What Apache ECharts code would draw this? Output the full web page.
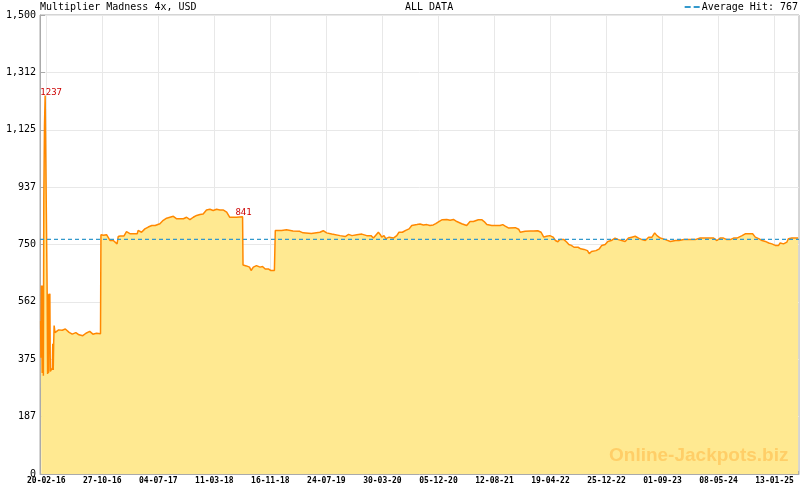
<!DOCTYPE html>
<html><head><meta charset="utf-8">
<script src="https://cdn.jsdelivr.net/npm/echarts@6/dist/echarts.min.js"></script>
<style>html,body{margin:0;padding:0;background:#fff}#c{width:800px;height:490px}</style>
</head><body><div id="c"></div>
<script>
// ---- data ----
const titleText = 'Multiplier Madness 4x, USD';
const subtitleText = 'ALL DATA';
const watermarkText = 'Online-Jackpots.biz';
const averageHit = 767;
const averageName = 'Average Hit: 767';
const tickDates = ['2016-02-20','2016-10-27','2017-07-04','2018-03-11','2018-11-16','2019-07-24','2020-03-30','2020-12-05','2021-08-12','2022-04-19','2022-12-25','2023-09-01','2024-05-08','2025-01-13'];
const axisStart = '2016-01-23';
const axisEnd = '2025-05-02';
const yMax = 1500;
const yStep = 187.5;
const peakDates = ['2016-02-15', '2018-07-15'];

const dates = [
'2016-01-26','2016-01-27','2016-01-29','2016-02-02','2016-02-04','2016-02-07','2016-02-09','2016-02-12','2016-02-15','2016-02-22',
'2016-02-24','2016-02-26','2016-02-28','2016-03-01','2016-03-04','2016-03-07','2016-03-09','2016-03-14','2016-03-18','2016-03-20',
'2016-03-22','2016-03-24','2016-03-26','2016-03-30','2016-04-15','2016-05-01','2016-05-15','2016-06-01','2016-06-15','2016-07-01',
'2016-07-15','2016-08-01','2016-08-15','2016-09-01','2016-09-15','2016-10-01','2016-10-19','2016-10-21','2016-11-01','2016-11-15',
'2016-12-01','2016-12-15','2017-01-01','2017-01-06','2017-01-15','2017-02-01','2017-02-12','2017-03-01','2017-03-15','2017-04-01',
'2017-04-05','2017-04-20','2017-05-05','2017-05-20','2017-06-05','2017-06-20','2017-06-27','2017-07-11','2017-07-26','2017-08-10',
'2017-08-25','2017-09-09','2017-09-24','2017-10-09','2017-10-24','2017-11-07','2017-11-22','2017-12-07','2017-12-22','2018-01-06',
'2018-01-20','2018-02-04','2018-02-19','2018-02-26','2018-03-06','2018-03-21','2018-04-05','2018-04-19','2018-05-05','2018-05-19',
'2018-06-18','2018-07-15','2018-07-17','2018-08-01','2018-08-15','2018-08-22','2018-09-01','2018-09-15','2018-10-01','2018-10-12',
'2018-10-24','2018-11-07','2018-11-18','2018-12-04','2018-12-06','2018-12-08','2019-01-05','2019-01-27','2019-02-25','2019-03-27',
'2019-04-11','2019-04-18','2019-05-18','2019-06-25','2019-07-10','2019-07-25','2019-08-17','2019-09-23','2019-10-16','2019-10-31',
'2019-11-15','2019-12-07','2019-12-29','2020-01-20','2020-02-08','2020-02-19','2020-02-26','2020-03-12','2020-03-20','2020-03-27',
'2020-04-06','2020-04-14','2020-04-29','2020-05-18','2020-06-02','2020-06-12','2020-06-27','2020-07-12','2020-07-27','2020-08-08',
'2020-08-31','2020-09-14','2020-09-29','2020-10-14','2020-10-28','2020-11-12','2020-11-23','2020-12-07','2020-12-22','2021-01-11',
'2021-01-26','2021-02-10','2021-02-25','2021-03-19','2021-04-10','2021-04-25','2021-05-10','2021-06-01','2021-06-16','2021-06-27',
'2021-07-09','2021-07-31','2021-08-23','2021-09-06','2021-09-18','2021-09-29','2021-10-13','2021-11-13','2021-11-28','2021-12-05',
'2021-12-27','2022-01-19','2022-02-03','2022-02-10','2022-02-21','2022-03-08','2022-03-20','2022-04-01','2022-04-16','2022-05-01',
'2022-05-11','2022-05-22','2022-05-31','2022-06-18','2022-06-30','2022-07-10','2022-07-21','2022-08-02','2022-08-20','2022-09-01',
'2022-09-16','2022-10-01','2022-10-09','2022-10-19','2022-11-08','2022-11-23','2022-12-04','2022-12-19','2022-12-31','2023-01-15',
'2023-02-01','2023-02-16','2023-03-03','2023-03-18','2023-04-02','2023-04-17','2023-05-02','2023-05-17','2023-06-01','2023-06-16',
'2023-07-01','2023-07-16','2023-07-28','2023-08-07','2023-08-22','2023-09-14','2023-10-06','2023-10-29','2023-11-13','2023-12-05',
'2024-01-02','2024-01-25','2024-02-16','2024-03-17','2024-04-16','2024-05-01','2024-05-15','2024-05-30','2024-06-14','2024-06-29',
'2024-07-14','2024-07-29','2024-08-21','2024-09-04','2024-09-27','2024-10-07','2024-10-19','2024-11-03','2024-11-18','2024-12-03',
'2024-12-18','2025-01-01','2025-01-16','2025-01-31','2025-02-07','2025-02-22','2025-03-09','2025-03-16','2025-03-31','2025-04-28'
];
const values = [
500,380,616,330,616,321,900,1140,1237,1237,
589,327,589,330,580,589,335,340,347,426,
340,426,485,462,471,470,474,463,457,462,
455,452,460,466,457,460,458,782,780,782,
763,763,752,776,778,778,792,785,785,785,
796,790,801,807,812,812,807,818,829,836,
839,842,834,834,834,839,831,839,845,848,
850,863,865,869,861,865,863,863,856,839,
839,841,683,680,676,665,676,681,676,678,
670,670,665,665,730,796,796,798,794,793,
788,793,786,790,795,788,784,779,776,783,
779,782,784,779,779,771,771,790,783,774,
779,769,774,771,779,790,790,796,801,812,
815,817,814,815,812,814,818,825,831,832,
829,832,825,818,812,825,825,831,831,825,
815,812,812,812,815,810,804,805,800,790,
793,794,794,788,795,790,774,777,779,774,
763,759,766,766,758,750,747,741,741,736,
734,730,720,727,730,736,747,750,760,763,
771,766,763,760,771,774,777,771,766,763,
774,774,788,779,771,766,760,763,763,766,
766,766,771,771,771,763,771,771,766,766,
771,771,779,785,785,785,774,769,763,760,
755,752,747,747,755,752,758,769,771,771
];

// ---- helpers ----
const BASE = Date.UTC(2016, 1, 20);
const DAY = 86400000;
function dayOf(s) { const p = s.split('-'); return (Date.UTC(+p[0], +p[1] - 1, +p[2]) - BASE) / DAY; }
function fmtDay(v) {
  const d = new Date(BASE + Math.round(v) * DAY);
  const pad = n => String(n).padStart(2, '0');
  return pad(d.getUTCDate()) + '-' + pad(d.getUTCMonth() + 1) + '-' + pad(d.getUTCFullYear() % 100);
}
function fmtY(v) {
  const n = Math.floor(v + 1e-9);
  return n >= 1000 ? Math.floor(n / 1000) + ',' + String(n % 1000).padStart(3, '0') : String(n);
}
const mono = '"DejaVu Sans Mono", monospace';
const xMin = dayOf(axisStart), xMax = dayOf(axisEnd);
const majorTicks = tickDates.map(dayOf);
const minorStep = (majorTicks[1] - majorTicks[0]) / 7;
const minorTicks = [];
for (let v = majorTicks[0]; v <= xMax; v += minorStep) minorTicks.push(v);

const seriesData = dates.map((d, i) => [dayOf(d), values[i]]);
const peaks = peakDates.map((d, i) => {
  const idx = dates.indexOf(d);
  return { coord: [dayOf(d), values[idx]], value: values[idx], label: { offset: i === 0 ? [6, 2] : [1, 1] } };
});

const chart = echarts.init(document.getElementById('c'), null, { renderer: 'canvas' });
chart.setOption({
  animation: false,
  backgroundColor: '#fff',
  title: [
    { text: titleText, left: 40, top: 2, padding: 0, textStyle: { fontFamily: mono, fontSize: 10, fontWeight: 'normal', color: '#000' } },
    { text: subtitleText, left: 405, top: 2, padding: 0, textStyle: { fontFamily: mono, fontSize: 10, fontWeight: 'normal', color: '#000' } }
  ],
  legend: {
    right: 2, top: 2, padding: 0, itemWidth: 15, itemHeight: 2, itemGap: 0,
    textStyle: { fontFamily: mono, fontSize: 10, color: '#000', padding: [0, 0, 0, -3] },
    data: [{ name: averageName, icon: 'path://M0,0h6v2h-6z M9,0h6v2h-6z' }]
  },
  grid: { left: 40, right: 1, top: 15, bottom: 16, show: true, borderColor: '#aaa', borderWidth: 1, backgroundColor: 'transparent' },
  xAxis: [
    {
      type: 'value', min: xMin, max: xMax, position: 'bottom',
      axisLine: { show: true, onZero: false, lineStyle: { color: '#aaa', width: 1 } },
      axisTick: { show: true, inside: true, length: 6, customValues: majorTicks, lineStyle: { color: '#aaa' } },
      axisLabel: { show: true, customValues: majorTicks, formatter: fmtDay, fontFamily: mono, fontSize: 8, fontWeight: 'bold', color: '#000', margin: 3 },
      splitLine: { show: true, lineStyle: { color: '#e8e8e8', width: 1 } }
    },
    {
      type: 'value', min: xMin, max: xMax, position: 'bottom',
      axisLine: { show: false, onZero: false },
      axisTick: { show: true, inside: true, length: 3, customValues: minorTicks, lineStyle: { color: '#aaa' } },
      axisLabel: { show: false },
      splitLine: { show: false }
    }
  ],
  yAxis: {
    type: 'value', min: 0, max: yMax, interval: yStep,
    axisLine: { show: true, onZero: false, lineStyle: { color: '#aaa', width: 1 } },
    axisTick: { show: true, inside: true, length: 5, lineStyle: { color: '#aaa' } },
    axisLabel: { formatter: fmtY, fontFamily: mono, fontSize: 10, color: '#000', margin: 4 },
    splitLine: { show: true, lineStyle: { color: '#e8e8e8', width: 1 } }
  },
  series: [
    {
      name: 'Multiplier Madness 4x', type: 'line', xAxisIndex: 0, data: seriesData,
      showSymbol: false, symbol: 'none', silent: true,
      lineStyle: { color: '#ff8800', width: 1.5 },
      areaStyle: { color: '#ffe991', opacity: 1 },
      markPoint: {
        symbol: 'circle', symbolSize: 0, silent: true,
        label: { show: true, position: 'top', distance: 0, color: '#cc0000', fontFamily: mono, fontSize: 9, formatter: p => String(p.value) },
        data: peaks
      }
    },
    {
      name: averageName, type: 'line', xAxisIndex: 0,
      data: [[xMin, averageHit], [xMax, averageHit]],
      symbol: 'none', silent: true,
      lineStyle: { color: '#3399cc', width: 1.2, type: [4, 3] },
      itemStyle: { color: '#3399cc' }
    }
  ],
  graphic: [
    { type: 'text', left: 609, top: 446, z: 100, silent: true,
      style: { text: watermarkText, font: 'bold 19px "Liberation Sans", Arial, sans-serif', fill: 'rgba(255,165,40,0.4)' } }
  ]
});
</script>
</body></html>
